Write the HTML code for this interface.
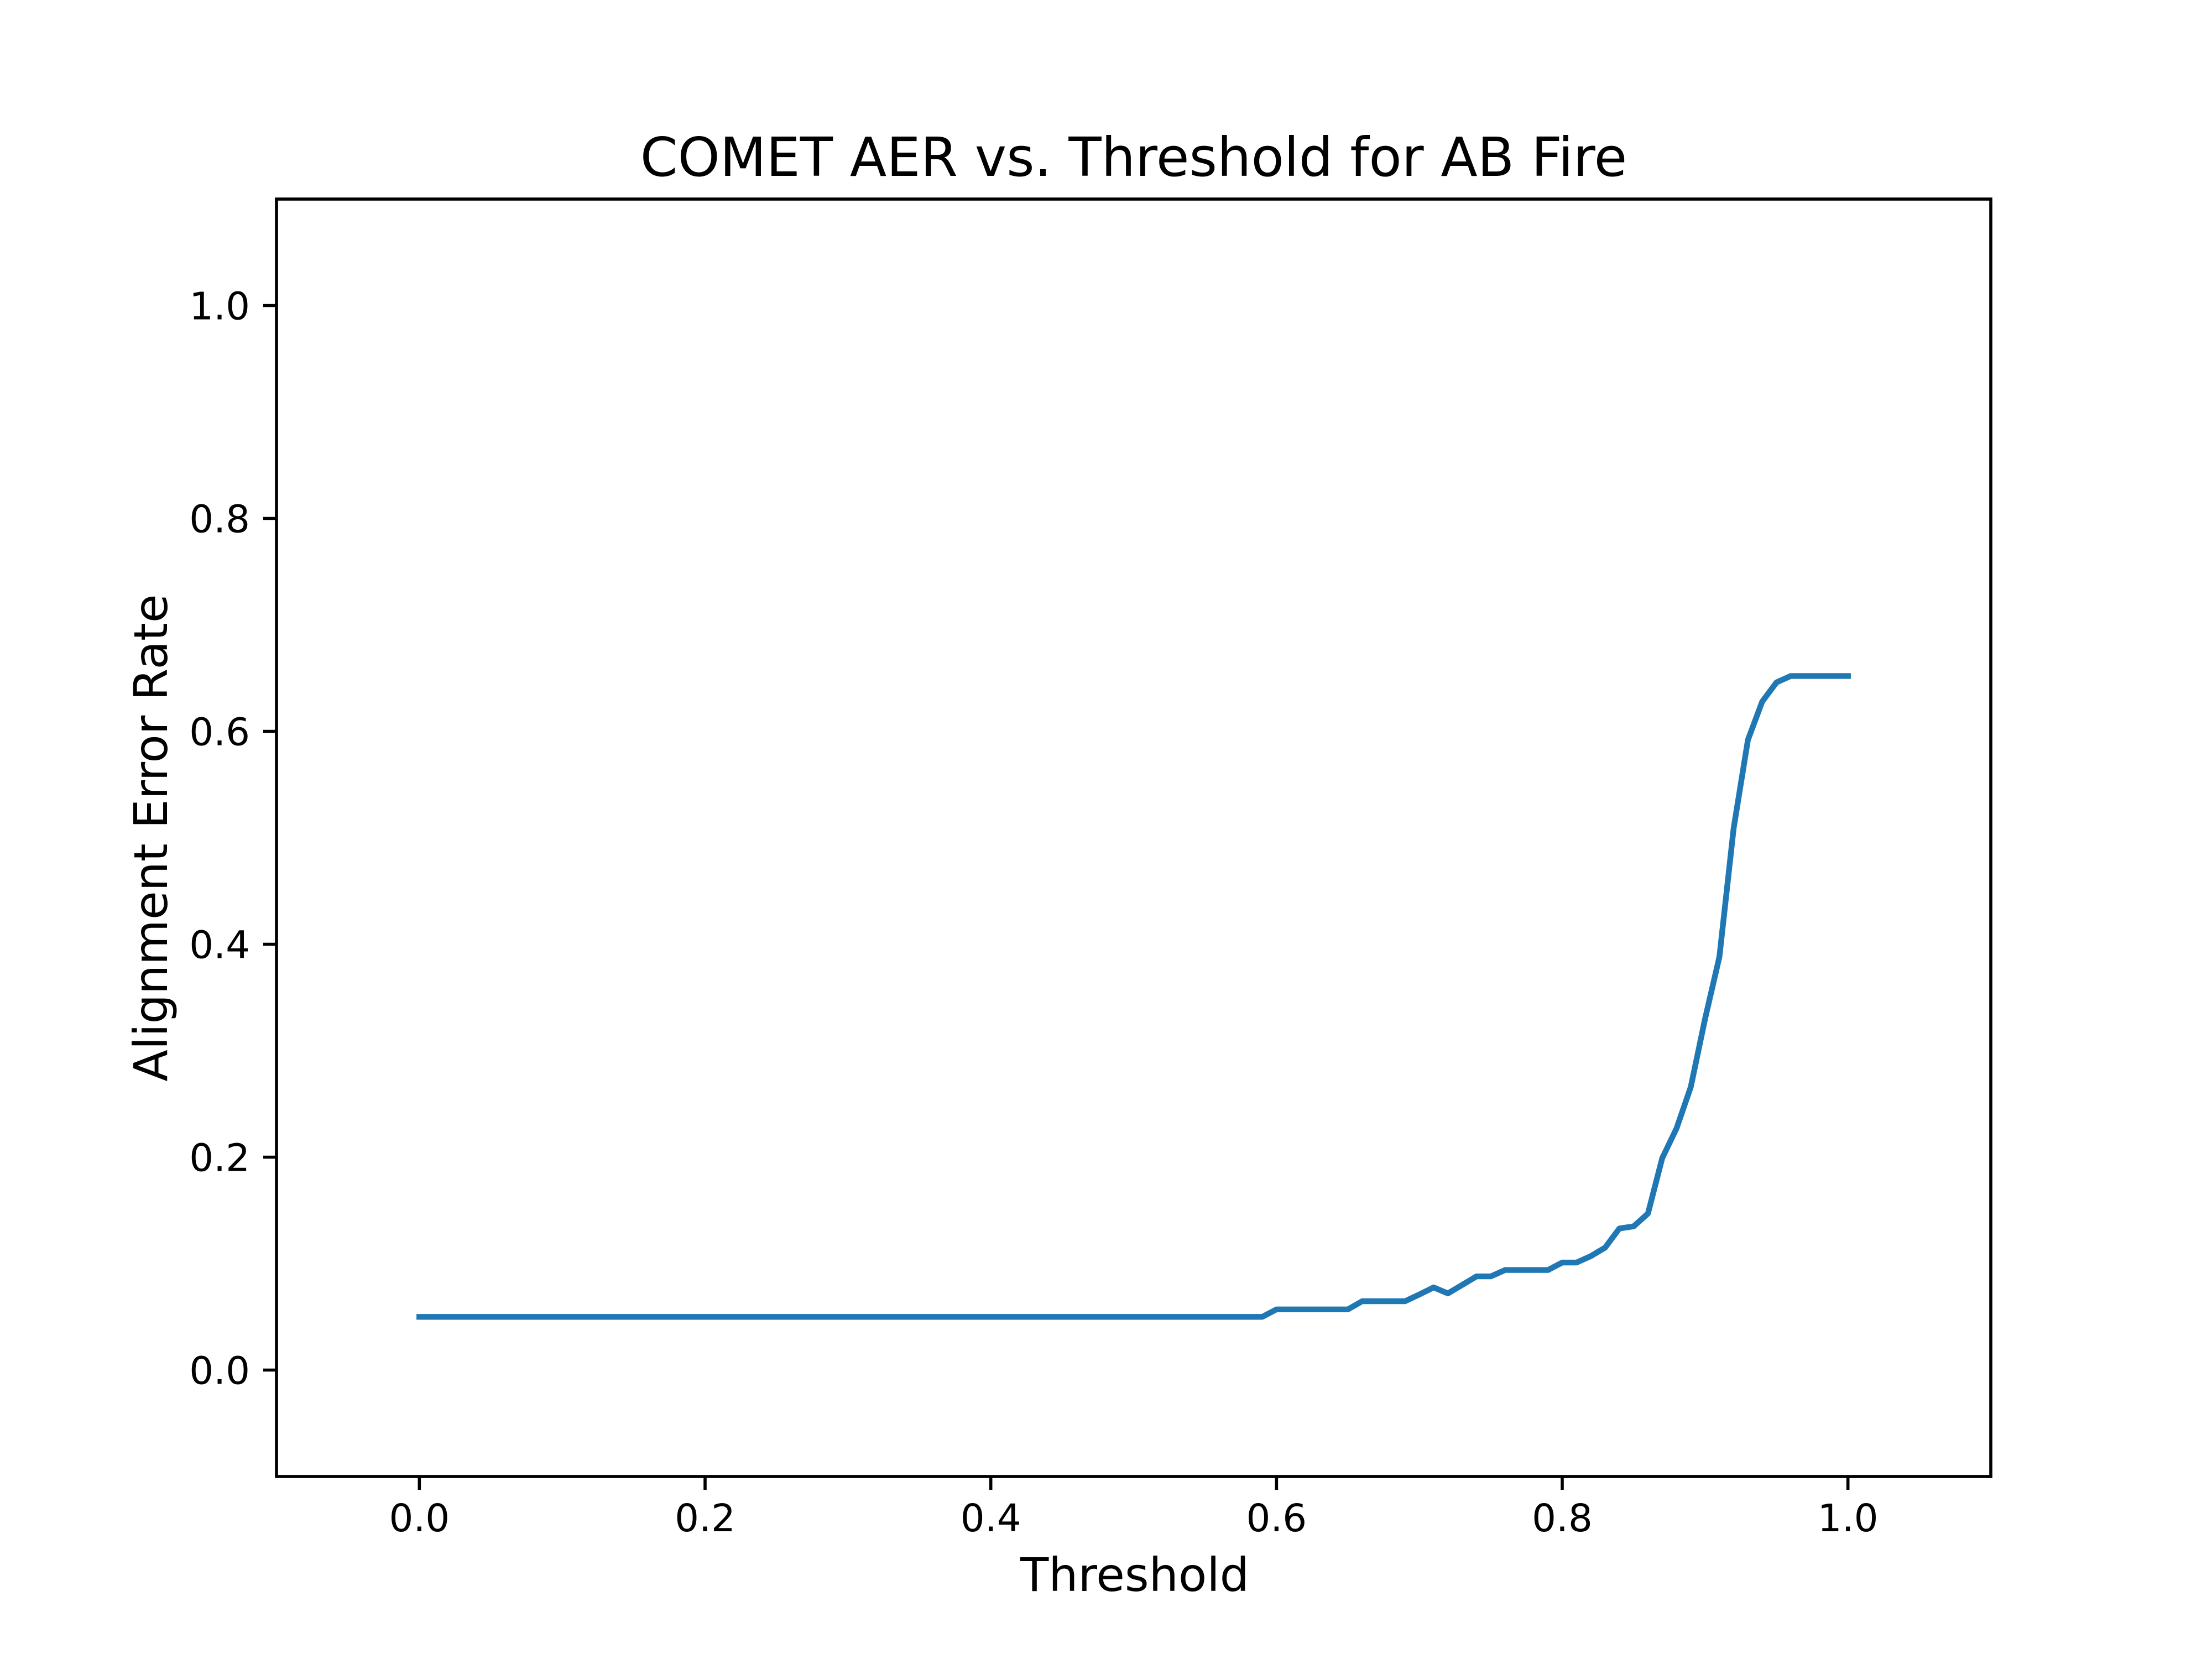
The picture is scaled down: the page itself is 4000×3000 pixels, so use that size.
<!DOCTYPE html>
<html><head><meta charset="utf-8"><style>
html,body{margin:0;padding:0;background:#fff;}
svg{display:block;font-family:"DejaVu Sans","Liberation Sans",sans-serif;}
</style></head><body>
<svg id="chart" width="4000" height="3000" viewBox="0 0 4000 3000">
<rect x="0" y="0" width="4000" height="3000" fill="#fff"/>
<text x="2050" y="318" font-size="97" text-anchor="middle" fill="#000">COMET AER vs. Threshold for AB Fire</text>
<g id="yticks"></g>
<g id="xticks"></g>
<path id="line" fill="none" stroke="#1f77b4" stroke-width="10.4" stroke-linejoin="round" stroke-linecap="square"/>
<rect x="500" y="360" width="3100" height="2310" fill="none" stroke="#000" stroke-width="5.6"/>
<text x="2052" y="2877" font-size="84" text-anchor="middle" fill="#000">Threshold</text>
<text x="0" y="0" font-size="84" text-anchor="middle" fill="#000" transform="translate(302,1515) rotate(-90)">Alignment Error Rate</text>
</svg>
<script>
const baseValue = 0.05;
const baseCount = 60;
const tailValues = [0.057,0.057,0.057,0.057,0.057,0.057,0.0647,0.0647,0.0647,0.0647,0.071,0.0776,0.072,0.080,0.088,0.088,0.094,0.094,0.094,0.094,0.101,0.101,0.107,0.115,0.133,0.135,0.147,0.199,0.227,0.266,0.330,0.388,0.509,0.592,0.628,0.646,0.652,0.652,0.652,0.652,0.652];
const xTickValues = [0.0,0.2,0.4,0.6,0.8,1.0];
const yTickValues = [0.0,0.2,0.4,0.6,0.8,1.0];
const xTickLabels = ["0.0","0.2","0.4","0.6","0.8","1.0"];
const yTickLabels = ["0.0","0.2","0.4","0.6","0.8","1.0"];

const NS = "http://www.w3.org/2000/svg";
const L=500,R=3600,T=360,B=2670;
const xmin=-0.1,xmax=1.1,ymin=-0.1,ymax=1.1;
function sx(v){return L+(v-xmin)/(xmax-xmin)*(R-L);}
function sy(v){return B-(v-ymin)/(ymax-ymin)*(B-T);}

const values=[];
for(let i=0;i<baseCount;i++) values.push(baseValue);
tailValues.forEach(v=>values.push(v));
const n=values.length;
let d="";
values.forEach((v,i)=>{const x=i/(n-1);d+=(i?"L":"M")+sx(x).toFixed(1)+" "+sy(v).toFixed(1);});
document.getElementById("line").setAttribute("d",d);

const xg=document.getElementById("xticks");
xTickValues.forEach((v,i)=>{
  const t=document.createElementNS(NS,"line");
  t.setAttribute("x1",sx(v));t.setAttribute("x2",sx(v));
  t.setAttribute("y1",B);t.setAttribute("y2",B+24);
  t.setAttribute("stroke","#000");t.setAttribute("stroke-width","5.6");
  
  
  xg.appendChild(t);
  const tx=document.createElementNS(NS,"text");
  tx.setAttribute("x",sx(v));tx.setAttribute("y",B+24+24+51);
  tx.setAttribute("font-size","69");tx.setAttribute("text-anchor","middle");
  tx.textContent=xTickLabels[i];
  
  
  xg.appendChild(tx);
});
const yg=document.getElementById("yticks");
yTickValues.forEach((v,i)=>{
  const t=document.createElementNS(NS,"line");
  t.setAttribute("x1",L-24);t.setAttribute("x2",L);
  t.setAttribute("y1",sy(v));t.setAttribute("y2",sy(v));
  t.setAttribute("stroke","#000");t.setAttribute("stroke-width","5.6");
  
  
  yg.appendChild(t);
  const tx=document.createElementNS(NS,"text");
  tx.setAttribute("x",L-24-24);tx.setAttribute("y",sy(v)+25);
  tx.setAttribute("font-size","69");tx.setAttribute("text-anchor","end");
  tx.textContent=yTickLabels[i];
  
  
  yg.appendChild(tx);
});
</script>
</body></html>
